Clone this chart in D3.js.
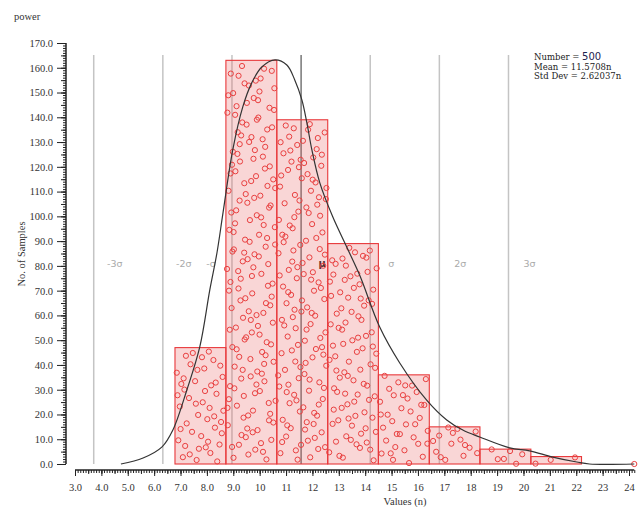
<!DOCTYPE html>
<html>
<head>
<meta charset="utf-8">
<script src="https://cdn.jsdelivr.net/npm/d3@7"></script>
<style>
body{margin:0;background:#fff;}
svg{display:block;font-family:"Liberation Serif","Times New Roman",serif;}
</style>
</head>
<body>
<svg id="chart" width="640" height="507"></svg>
<script>
// histogram bins
const binEdges = [6.79, 8.72, 10.65, 12.58, 14.50, 16.43, 18.35, 20.28, 22.20];
const binCounts = [47, 163, 139, 89, 36, 15, 6, 3];
const outliers = [24.2];

// fitted density curve
const curveX = [4.74, 5.58, 6.30, 6.71, 7.24, 7.73, 8.11, 8.38, 8.61, 8.98, 9.36, 9.70, 10.08, 10.58,
                11.03, 11.33, 11.60, 11.79, 11.98, 12.28, 12.77, 13.30, 13.80, 14.55, 15.31, 16.33,
                17.09, 17.70, 18.34, 19.48, 20.23, 21.11, 22.02, 22.50, 24.20];
const curveY = [0, 2.4, 6.9, 13.7, 29.9, 47.3, 70.3, 85.2, 101.4, 126.8, 144.2, 153.9, 160.3, 163.2,
                161.1, 155.1, 147.0, 137.7, 126.8, 113.5, 99.8, 87.6, 76.0, 55.3, 40.8, 25.8,
                17.8, 13.7, 10.9, 6.5, 5.3, 2.8, 0.8, 0, 0];

// statistics
const sampleCount = 500;
const mean = 11.5708;
const stdDev = 2.62037;
const sigmaSteps = [-3, -2, -1, 0, 1, 2, 3];
const sigmaLabels = ['-3σ', '-2σ', '-σ', 'μ', 'σ', '2σ', '3σ'];

// axis ticks
const xTicks = d3.range(3, 25, 1);
const yTicks = d3.range(0, 171, 10);

const svg = d3.select('#chart');
const x = d3.scaleLinear().domain([3, 24]).range([75, 629]);
const y = d3.scaleLinear().domain([0, 170]).range([464, 43]);
const lineTop = 55;

// sigma lines
const sigmaG = svg.append('g');
sigmaSteps.forEach((k, i) => {
    const v = mean + k * stdDev;
    sigmaG.append('line')
        .attr('x1', x(v)).attr('x2', x(v))
        .attr('y1', lineTop).attr('y2', y(0))
        .style('stroke', k === 0 ? '#777' : '#c4c4c4')
        .style('stroke-width', 1.5);
    const off = k === -1 ? -21 : 21;
    sigmaG.append('text')
        .attr('x', x(v) + off).attr('y', 267)
        .attr('text-anchor', 'middle')
        .style('font-family', 'DejaVu Sans, sans-serif')
        .style('font-size', k === 0 ? '10px' : '9.5px')
        .style('font-weight', k === 0 ? 'bold' : 'normal')
        .style('fill', k === 0 ? '#222' : '#aaa')
        .text(sigmaLabels[i]);
});

// bars
const bins = binCounts.map((c, i) => ({x0: binEdges[i], x1: binEdges[i + 1], count: c}));
svg.append('g').selectAll('rect')
    .data(bins)
    .enter()
    .append('rect')
    .attr('x', d => x(d.x0))
    .attr('y', d => y(d.count))
    .attr('width', d => x(d.x1) - x(d.x0))
    .attr('height', d => y(0) - y(d.count))
    .style('fill', 'rgba(232,90,90,0.25)')
    .style('stroke', '#e8383a')
    .style('stroke-width', 1.1);

// sample dots, spread over each bar with a halton sequence
function halton(n, base){
    let r = 0, f = 1 / base;
    while(n > 0){ r += f * (n % base); n = Math.floor(n / base); f /= base; }
    return r;
}
const dots = [];
bins.forEach((b, bi) => {
    for(let k = 0; k < b.count; k++){
        const n = k + 11 + bi * 173;
        dots.push({
            v: b.x0 + (b.x1 - b.x0) * (0.02 + 0.96 * halton(n, 2)),
            h: b.count * (0.01 + 0.98 * halton(n, 3))
        });
    }
});
outliers.forEach(v => dots.push({v: v, h: 0}));
svg.append('g').selectAll('circle')
    .data(dots)
    .enter()
    .append('circle')
    .attr('cx', d => x(d.v))
    .attr('cy', d => y(d.h))
    .attr('r', 2.6)
    .style('fill', 'none')
    .style('stroke', '#e94040')
    .style('stroke-width', 1);

// density curve
const line = d3.line().x(d => x(d[0])).y(d => y(d[1])).curve(d3.curveCatmullRom);
svg.append('path')
    .datum(curveX.map((v, i) => [v, curveY[i]]))
    .attr('d', line)
    .style('fill', 'none')
    .style('stroke', '#333')
    .style('stroke-width', 1.2);

// y axis
const yAxisX = 66;
function yAx(vals, size, labels){
    const a = d3.axisLeft(y).tickValues(vals).tickSize(size).tickSizeOuter(0);
    a.tickFormat(labels ? d3.format('.1f') : '').tickPadding(4);
    const g = svg.append('g').attr('transform', `translate(${yAxisX},0)`).call(a);
    g.select('.domain').remove();
    g.selectAll('line').style('stroke', '#222');
    return g;
}
yAx(d3.range(0, 171, 1), 3, false);
yAx(d3.range(0, 171, 5), 5, false);
const yMajor = yAx(yTicks, 9, true);
yMajor.selectAll('text')
    .style('font-family', 'Liberation Serif, serif')
    .style('font-size', '10.5px')
    .style('fill', '#333');
svg.append('line')
    .attr('x1', yAxisX).attr('x2', yAxisX)
    .attr('y1', y(170)).attr('y2', y(0))
    .style('stroke', '#222').style('stroke-width', 1.5);

// x axis
const xAxisY = 470;
function xAx(vals, size, labels){
    const a = d3.axisBottom(x).tickValues(vals).tickSize(size).tickSizeOuter(0);
    a.tickFormat(labels ? (d => d < 10 ? d.toFixed(1) : d3.format('d')(d)) : '').tickPadding(8);
    const g = svg.append('g').attr('transform', `translate(0,${xAxisY})`).call(a);
    g.select('.domain').remove();
    g.selectAll('line').style('stroke', '#222');
    return g;
}
xAx(d3.range(30, 243, 1).map(d => d / 10), 3, false);
xAx(d3.range(30, 243, 5).map(d => d / 10), 4, false);
const xMajor = xAx(xTicks, 6, true);
xMajor.selectAll('text')
    .style('font-family', 'Liberation Serif, serif')
    .style('font-size', '10.5px')
    .style('fill', '#333');
svg.append('line')
    .attr('x1', x(3)).attr('x2', x(24.2))
    .attr('y1', xAxisY).attr('y2', xAxisY)
    .style('stroke', '#222').style('stroke-width', 1.5);

// titles
svg.append('text')
    .attr('x', 405).attr('y', 505)
    .attr('text-anchor', 'middle')
    .style('font-size', '10.5px').style('fill', '#333')
    .text('Values (n)');
svg.append('text')
    .attr('transform', 'translate(25,254) rotate(-90)')
    .attr('text-anchor', 'middle')
    .style('font-size', '10.5px').style('fill', '#333')
    .text('No. of Samples');
svg.append('text')
    .attr('x', 14).attr('y', 20)
    .style('font-size', '10.5px').style('fill', '#333')
    .text('power');

// stats box
const stats = svg.append('g')
    .style('font-family', 'DejaVu Serif, serif')
    .style('font-size', '8.5px').style('fill', '#222');
const t1 = stats.append('text').attr('x', 534).attr('y', 60);
t1.append('tspan').text('Number = ');
t1.append('tspan').text(sampleCount)
    .style('font-family', 'DejaVu Sans, sans-serif').style('font-size', '10px').style('fill', '#1c2250');
stats.append('text').attr('x', 534).attr('y', 69.5).text(`Mean = ${mean}n`);
stats.append('text').attr('x', 534).attr('y', 79).text(`Std Dev = ${stdDev}n`);
</script>
</body>
</html>
